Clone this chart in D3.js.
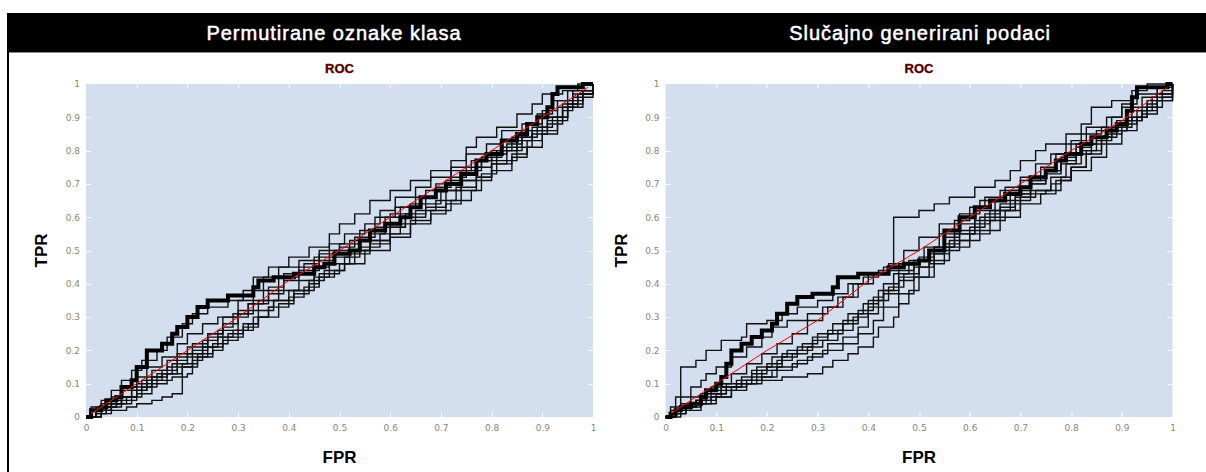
<!DOCTYPE html>
<html>
<head>
<meta charset="utf-8">
<script src="https://cdn.jsdelivr.net/npm/d3@7"></script>
<style>
  body { margin: 0; background: #fff; }
  svg { display: block; font-family: "Liberation Sans", Arial, sans-serif; }
</style>
</head>
<body>
<script>
// ROC curves, two panels
var svgWidth = 1206;
var svgHeight = 472;

var panelTitles = ["Permutirane oznake klasa", "Slučajno generirani podaci"];
var tickValues = [0, 0.1, 0.2, 0.3, 0.4, 0.5, 0.6, 0.7, 0.8, 0.9, 1];
var tickLabels = ["0", "0.1", "0.2", "0.3", "0.4", "0.5", "0.6", "0.7", "0.8", "0.9", "1"];

// left panel: permuted class labels, [FPR, TPR]
var permThick = [[0,0],[0.01,0.02],[0.03,0.03],[0.04,0.05],[0.06,0.06],[0.07,0.09],[0.09,0.11],[0.1,0.15],[0.12,0.2],[0.15,0.22],[0.17,0.25],[0.18,0.27],[0.2,0.3],[0.22,0.33],[0.24,0.35],[0.28,0.365],[0.33,0.39],[0.34,0.41],[0.37,0.42],[0.41,0.43],[0.45,0.45],[0.47,0.46],[0.49,0.49],[0.52,0.5],[0.54,0.53],[0.56,0.56],[0.59,0.58],[0.62,0.6],[0.64,0.63],[0.66,0.66],[0.69,0.68],[0.71,0.7],[0.74,0.73],[0.77,0.77],[0.79,0.79],[0.82,0.83],[0.85,0.85],[0.87,0.88],[0.89,0.9],[0.91,0.93],[0.92,0.97],[0.93,0.99],[0.97,0.99],[0.98,1],[1,1]];

var permThin = [
  [[0,0],[0.02,0.03],[0.05,0.05],[0.07,0.08],[0.1,0.1],[0.13,0.14],[0.16,0.17],[0.2,0.21],[0.24,0.25],[0.27,0.3],[0.3,0.35],[0.33,0.42],[0.36,0.45],[0.4,0.48],[0.44,0.51],[0.48,0.55],[0.5,0.58],[0.53,0.61],[0.56,0.65],[0.6,0.68],[0.64,0.71],[0.68,0.74],[0.72,0.77],[0.75,0.81],[0.77,0.84],[0.81,0.87],[0.85,0.91],[0.88,0.94],[0.9,0.97],[0.94,0.98],[0.97,1],[1,1]],
  [[0,0],[0.03,0.01],[0.05,0.02],[0.08,0.03],[0.1,0.04],[0.13,0.05],[0.15,0.06],[0.17,0.07],[0.19,0.08],[0.19,0.12],[0.2,0.13],[0.21,0.17],[0.23,0.21],[0.26,0.24],[0.29,0.26],[0.32,0.28],[0.34,0.3],[0.36,0.33],[0.37,0.35],[0.41,0.37],[0.44,0.4],[0.46,0.42],[0.49,0.44],[0.51,0.46],[0.55,0.5],[0.6,0.54],[0.64,0.59],[0.68,0.62],[0.72,0.65],[0.76,0.68],[0.78,0.71],[0.8,0.74],[0.84,0.78],[0.87,0.81],[0.9,0.85],[0.93,0.89],[0.95,0.93],[0.98,0.97],[1,1]],
  [[0,0],[0.02,0.02],[0.04,0.03],[0.06,0.05],[0.08,0.06],[0.1,0.08],[0.12,0.09],[0.14,0.11],[0.17,0.12],[0.19,0.15],[0.22,0.18],[0.25,0.2],[0.27,0.23],[0.3,0.26],[0.33,0.3],[0.36,0.33],[0.4,0.36],[0.43,0.39],[0.46,0.43],[0.5,0.46],[0.53,0.5],[0.56,0.53],[0.6,0.57],[0.63,0.6],[0.67,0.63],[0.71,0.68],[0.74,0.71],[0.78,0.73],[0.81,0.77],[0.85,0.81],[0.88,0.85],[0.91,0.88],[0.94,0.92],[0.96,0.96],[1,1]],
  [[0,0],[0.01,0.03],[0.03,0.05],[0.05,0.08],[0.07,0.11],[0.09,0.14],[0.11,0.17],[0.14,0.2],[0.16,0.24],[0.19,0.28],[0.21,0.31],[0.24,0.33],[0.28,0.35],[0.31,0.38],[0.35,0.42],[0.38,0.45],[0.42,0.47],[0.46,0.5],[0.5,0.52],[0.54,0.56],[0.57,0.6],[0.61,0.63],[0.65,0.66],[0.69,0.7],[0.72,0.74],[0.76,0.77],[0.8,0.8],[0.84,0.84],[0.87,0.88],[0.9,0.92],[0.93,0.95],[0.96,0.98],[1,1]],
  [[0,0],[0.02,0.01],[0.04,0.04],[0.07,0.06],[0.09,0.09],[0.12,0.12],[0.15,0.14],[0.18,0.18],[0.21,0.2],[0.24,0.24],[0.27,0.27],[0.29,0.31],[0.32,0.34],[0.36,0.37],[0.39,0.41],[0.42,0.44],[0.46,0.47],[0.49,0.5],[0.52,0.53],[0.56,0.55],[0.59,0.6],[0.62,0.63],[0.66,0.66],[0.69,0.69],[0.72,0.72],[0.75,0.75],[0.78,0.78],[0.82,0.81],[0.85,0.84],[0.88,0.87],[0.91,0.9],[0.94,0.93],[0.97,0.97],[1,1]],
  [[0,0],[0.03,0.02],[0.05,0.04],[0.08,0.05],[0.1,0.07],[0.13,0.1],[0.16,0.13],[0.19,0.16],[0.22,0.19],[0.25,0.22],[0.28,0.25],[0.31,0.28],[0.34,0.32],[0.37,0.35],[0.4,0.38],[0.44,0.41],[0.47,0.44],[0.51,0.48],[0.54,0.51],[0.58,0.55],[0.62,0.58],[0.65,0.62],[0.69,0.65],[0.73,0.69],[0.77,0.72],[0.8,0.76],[0.84,0.79],[0.87,0.83],[0.9,0.86],[0.93,0.9],[0.95,0.94],[0.98,0.98],[1,1]],
  [[0,0],[0.02,0.02],[0.05,0.03],[0.07,0.06],[0.09,0.08],[0.11,0.11],[0.14,0.13],[0.17,0.16],[0.2,0.19],[0.23,0.23],[0.26,0.26],[0.3,0.3],[0.32,0.34],[0.35,0.38],[0.38,0.42],[0.42,0.45],[0.45,0.48],[0.48,0.52],[0.51,0.55],[0.55,0.58],[0.58,0.62],[0.61,0.66],[0.65,0.69],[0.68,0.72],[0.72,0.75],[0.75,0.79],[0.79,0.82],[0.82,0.86],[0.86,0.88],[0.89,0.91],[0.92,0.95],[0.95,0.98],[1,1]],
  [[0,0],[0.01,0.02],[0.03,0.04],[0.05,0.06],[0.07,0.09],[0.1,0.12],[0.12,0.15],[0.15,0.18],[0.18,0.22],[0.2,0.25],[0.23,0.28],[0.26,0.3],[0.3,0.32],[0.34,0.35],[0.38,0.38],[0.42,0.41],[0.45,0.45],[0.48,0.48],[0.52,0.5],[0.56,0.53],[0.6,0.57],[0.63,0.61],[0.67,0.64],[0.7,0.68],[0.74,0.71],[0.77,0.75],[0.8,0.79],[0.83,0.82],[0.86,0.86],[0.9,0.9],[0.93,0.93],[0.96,0.97],[1,1]],
  [[0,0],[0.02,0.01],[0.04,0.03],[0.06,0.04],[0.09,0.06],[0.11,0.09],[0.13,0.12],[0.16,0.15],[0.18,0.19],[0.21,0.22],[0.24,0.25],[0.27,0.28],[0.3,0.31],[0.33,0.35],[0.36,0.39],[0.39,0.43],[0.43,0.46],[0.46,0.49],[0.5,0.51],[0.53,0.54],[0.57,0.57],[0.6,0.61],[0.64,0.64],[0.67,0.68],[0.71,0.71],[0.74,0.74],[0.78,0.77],[0.81,0.8],[0.85,0.83],[0.88,0.86],[0.91,0.89],[0.94,0.94],[0.97,0.97],[1,1]],
  [[0,0],[0.02,0.02],[0.05,0.04],[0.07,0.06],[0.1,0.08],[0.12,0.11],[0.15,0.13],[0.18,0.15],[0.21,0.18],[0.24,0.21],[0.27,0.24],[0.31,0.27],[0.34,0.3],[0.38,0.34],[0.41,0.38],[0.45,0.42],[0.48,0.46],[0.52,0.49],[0.56,0.52],[0.6,0.55],[0.64,0.58],[0.68,0.61],[0.71,0.64],[0.74,0.68],[0.77,0.72],[0.8,0.76],[0.83,0.8],[0.86,0.84],[0.89,0.87],[0.92,0.9],[0.95,0.95],[0.98,0.98],[1,1]]
];

var permMean = [[0.01,0.01],[0.1,0.1],[0.2,0.2],[0.3,0.3],[0.4,0.41],[0.5,0.5],[0.6,0.6],[0.7,0.7],[0.8,0.8],[0.9,0.9],[0.99,0.99]];

// right panel: randomly generated data, [FPR, TPR]
var randThick = [[0,0],[0.01,0.01],[0.02,0.02],[0.03,0.03],[0.05,0.04],[0.07,0.06],[0.08,0.08],[0.1,0.1],[0.11,0.12],[0.12,0.16],[0.13,0.2],[0.15,0.22],[0.17,0.24],[0.19,0.26],[0.21,0.28],[0.22,0.31],[0.24,0.34],[0.26,0.36],[0.29,0.37],[0.33,0.39],[0.34,0.42],[0.38,0.43],[0.42,0.43],[0.44,0.45],[0.47,0.46],[0.5,0.47],[0.52,0.5],[0.55,0.56],[0.58,0.6],[0.61,0.63],[0.64,0.65],[0.67,0.67],[0.7,0.69],[0.72,0.72],[0.75,0.74],[0.77,0.77],[0.79,0.79],[0.82,0.82],[0.84,0.84],[0.87,0.86],[0.89,0.88],[0.91,0.92],[0.92,0.96],[0.93,0.99],[0.96,0.99],[0.99,1],[1,1]];

var randThin = [
  [[0,0],[0.02,0.02],[0.04,0.04],[0.06,0.05],[0.08,0.08],[0.11,0.1],[0.13,0.13],[0.16,0.16],[0.19,0.19],[0.22,0.22],[0.25,0.25],[0.28,0.29],[0.31,0.33],[0.34,0.36],[0.37,0.4],[0.4,0.43],[0.43,0.45],[0.45,0.6],[0.5,0.62],[0.53,0.64],[0.56,0.66],[0.61,0.69],[0.65,0.71],[0.68,0.74],[0.7,0.77],[0.73,0.8],[0.75,0.82],[0.79,0.85],[0.82,0.88],[0.84,0.93],[0.88,0.95],[0.92,0.98],[0.95,1],[1,1]],
  [[0,0],[0.01,0.03],[0.02,0.06],[0.03,0.09],[0.03,0.15],[0.06,0.17],[0.08,0.2],[0.11,0.23],[0.15,0.24],[0.16,0.28],[0.2,0.29],[0.23,0.31],[0.26,0.33],[0.3,0.35],[0.33,0.37],[0.36,0.4],[0.39,0.42],[0.42,0.44],[0.46,0.46],[0.5,0.48],[0.53,0.51],[0.57,0.55],[0.61,0.59],[0.65,0.62],[0.69,0.66],[0.72,0.7],[0.75,0.74],[0.78,0.78],[0.81,0.82],[0.85,0.86],[0.88,0.9],[0.9,0.94],[0.93,0.97],[0.97,0.99],[1,1]],
  [[0,0],[0.02,0.03],[0.03,0.06],[0.05,0.09],[0.07,0.11],[0.08,0.13],[0.1,0.15],[0.13,0.18],[0.16,0.21],[0.19,0.24],[0.21,0.27],[0.24,0.29],[0.28,0.31],[0.32,0.33],[0.35,0.36],[0.38,0.4],[0.41,0.43],[0.44,0.46],[0.47,0.5],[0.5,0.54],[0.54,0.58],[0.58,0.61],[0.62,0.65],[0.66,0.68],[0.7,0.71],[0.74,0.75],[0.77,0.79],[0.8,0.83],[0.83,0.87],[0.87,0.9],[0.9,0.93],[0.94,0.96],[0.97,0.99],[1,1]],
  [[0,0],[0.02,0.01],[0.04,0.03],[0.06,0.04],[0.08,0.06],[0.1,0.07],[0.12,0.09],[0.15,0.1],[0.18,0.11],[0.23,0.12],[0.28,0.13],[0.31,0.15],[0.33,0.17],[0.36,0.19],[0.38,0.21],[0.41,0.24],[0.42,0.27],[0.45,0.3],[0.46,0.34],[0.48,0.38],[0.5,0.42],[0.53,0.47],[0.56,0.51],[0.6,0.55],[0.64,0.59],[0.67,0.62],[0.7,0.66],[0.73,0.68],[0.76,0.7],[0.78,0.72],[0.8,0.75],[0.83,0.8],[0.86,0.84],[0.89,0.87],[0.92,0.9],[0.95,0.93],[0.98,0.96],[1,1]],
  [[0,0],[0.02,0.02],[0.04,0.04],[0.06,0.05],[0.09,0.07],[0.12,0.09],[0.15,0.11],[0.18,0.12],[0.21,0.14],[0.25,0.16],[0.28,0.18],[0.31,0.2],[0.35,0.22],[0.38,0.25],[0.41,0.29],[0.43,0.33],[0.46,0.37],[0.49,0.42],[0.52,0.46],[0.55,0.5],[0.58,0.53],[0.62,0.56],[0.66,0.6],[0.7,0.64],[0.74,0.67],[0.77,0.71],[0.8,0.74],[0.84,0.78],[0.87,0.82],[0.9,0.86],[0.93,0.9],[0.95,0.94],[0.97,0.97],[1,1]],
  [[0,0],[0.03,0.02],[0.05,0.03],[0.07,0.05],[0.1,0.06],[0.13,0.08],[0.16,0.1],[0.19,0.12],[0.22,0.15],[0.26,0.17],[0.29,0.19],[0.32,0.22],[0.35,0.24],[0.38,0.27],[0.4,0.31],[0.42,0.35],[0.44,0.39],[0.47,0.43],[0.5,0.47],[0.53,0.51],[0.57,0.55],[0.61,0.58],[0.64,0.62],[0.68,0.65],[0.72,0.68],[0.76,0.72],[0.79,0.76],[0.82,0.8],[0.85,0.83],[0.88,0.86],[0.91,0.89],[0.94,0.92],[0.97,0.95],[1,1]],
  [[0,0],[0.02,0.02],[0.04,0.03],[0.06,0.05],[0.08,0.07],[0.11,0.09],[0.14,0.11],[0.17,0.14],[0.2,0.16],[0.23,0.19],[0.26,0.21],[0.29,0.24],[0.32,0.26],[0.35,0.29],[0.38,0.32],[0.41,0.36],[0.43,0.4],[0.46,0.44],[0.49,0.47],[0.52,0.5],[0.55,0.54],[0.58,0.58],[0.61,0.62],[0.65,0.65],[0.68,0.68],[0.72,0.71],[0.75,0.73],[0.78,0.76],[0.81,0.79],[0.84,0.82],[0.87,0.85],[0.9,0.88],[0.93,0.92],[0.96,0.96],[1,1]],
  [[0,0],[0.01,0.02],[0.03,0.04],[0.05,0.06],[0.07,0.07],[0.09,0.09],[0.12,0.1],[0.15,0.12],[0.18,0.15],[0.21,0.18],[0.24,0.2],[0.27,0.22],[0.3,0.25],[0.33,0.28],[0.36,0.31],[0.39,0.34],[0.42,0.38],[0.45,0.43],[0.48,0.47],[0.51,0.51],[0.54,0.55],[0.57,0.59],[0.6,0.63],[0.63,0.66],[0.67,0.69],[0.7,0.72],[0.73,0.76],[0.76,0.79],[0.79,0.82],[0.82,0.85],[0.86,0.87],[0.89,0.89],[0.92,0.92],[0.95,0.95],[0.98,0.98],[1,1]],
  [[0,0],[0.02,0.01],[0.04,0.03],[0.06,0.04],[0.09,0.06],[0.11,0.08],[0.14,0.1],[0.17,0.13],[0.2,0.15],[0.23,0.18],[0.26,0.2],[0.29,0.23],[0.32,0.25],[0.35,0.28],[0.38,0.31],[0.4,0.35],[0.43,0.38],[0.46,0.42],[0.5,0.45],[0.53,0.49],[0.56,0.53],[0.6,0.57],[0.63,0.61],[0.66,0.64],[0.7,0.67],[0.75,0.68],[0.78,0.71],[0.8,0.75],[0.83,0.79],[0.86,0.84],[0.88,0.86],[0.91,0.89],[0.94,0.91],[0.97,0.95],[1,1]],
  [[0,0],[0.02,0.01],[0.04,0.02],[0.07,0.04],[0.1,0.06],[0.13,0.09],[0.16,0.11],[0.19,0.14],[0.22,0.17],[0.25,0.19],[0.28,0.21],[0.31,0.23],[0.34,0.26],[0.37,0.3],[0.4,0.33],[0.43,0.37],[0.46,0.41],[0.49,0.45],[0.52,0.49],[0.55,0.52],[0.58,0.56],[0.62,0.6],[0.66,0.63],[0.69,0.67],[0.72,0.7],[0.75,0.74],[0.78,0.77],[0.81,0.81],[0.84,0.84],[0.88,0.87],[0.91,0.9],[0.94,0.93],[0.97,0.97],[1,1]]
];

var randMean = [[0.01,0.01],[0.1,0.1],[0.2,0.2],[0.3,0.29],[0.4,0.41],[0.5,0.5],[0.6,0.6],[0.7,0.7],[0.8,0.8],[0.9,0.89],[0.99,0.99]];

var svg = d3.select("body")
  .append("svg")
  .attr("width", svgWidth)
  .attr("height", svgHeight);

// black header bar with grey rule under it
svg.append("rect")
  .attr("x", 7)
  .attr("y", 13)
  .attr("width", svgWidth - 7)
  .attr("height", 39)
  .attr("fill", "#000");

svg.append("line")
  .attr("x1", 7).attr("x2", svgWidth)
  .attr("y1", 52.5).attr("y2", 52.5)
  .attr("stroke", "#8c8c8c");

// left border of the frame
svg.append("line")
  .attr("x1", 8).attr("x2", 8)
  .attr("y1", 52).attr("y2", svgHeight)
  .attr("stroke", "#000")
  .attr("stroke-width", 2);

var plotTop = 84;
var plotHeight = 333;
var plotWidth = 507;

function drawPanel(title, titleX, left, thinCurves, thickCurve, meanCurve) {
  svg.append("text")
    .attr("x", titleX)
    .attr("y", 40)
    .attr("text-anchor", "middle")
    .attr("fill", "#fff")
    .attr("stroke", "#fff")
    .attr("stroke-width", 0.5)
    .attr("font-size", "20px")
    .attr("letter-spacing", "1px")
    .text(title);

  var g = svg.append("g")
    .attr("transform", `translate(${left}, ${plotTop})`);

  var x = d3.scaleLinear().domain([0, 1]).range([0, plotWidth]);
  var y = d3.scaleLinear().domain([0, 1]).range([plotHeight, 0]);

  g.append("rect")
    .attr("width", plotWidth)
    .attr("height", plotHeight)
    .attr("fill", "#d3dfef");

  // small white ticks on all four sides, inside the plot
  var inner = tickValues.slice(1, -1);
  var tg = g.append("g").attr("stroke", "#fff").attr("stroke-width", 1);
  inner.forEach(function (t) {
    var px = Math.round(x(t)) + 0.5;
    var py = Math.round(y(t)) + 0.5;
    tg.append("line").attr("x1", px).attr("x2", px).attr("y1", 0).attr("y2", 4);
    tg.append("line").attr("x1", px).attr("x2", px).attr("y1", plotHeight).attr("y2", plotHeight - 5);
    tg.append("line").attr("x1", 0).attr("x2", 5).attr("y1", py).attr("y2", py);
    tg.append("line").attr("x1", plotWidth).attr("x2", plotWidth - 5).attr("y1", py).attr("y2", py);
  });

  // tick labels
  var bottomAxis = d3.axisBottom(x)
    .tickValues(tickValues)
    .tickFormat(function (d, i) { return tickLabels[i]; })
    .tickSize(0)
    .tickPadding(8);
  var leftAxis = d3.axisLeft(y)
    .tickValues(tickValues)
    .tickFormat(function (d, i) { return tickLabels[i]; })
    .tickSize(0)
    .tickPadding(6);

  var xAxis = g.append("g")
    .attr("transform", `translate(0, ${plotHeight})`)
    .call(bottomAxis);
  var yAxis = g.append("g").call(leftAxis);
  [xAxis, yAxis].forEach(function (a) {
    a.select(".domain").remove();
    a.selectAll("text")
      .attr("fill", "#8a8578")
      .attr("font-size", "9px")
      .attr("font-family", "Tahoma, 'DejaVu Sans', sans-serif");
  });

  var step = d3.line()
    .x(d => x(d[0]))
    .y(d => y(d[1]))
    .curve(d3.curveStepAfter);

  g.selectAll(".thin")
    .data(thinCurves)
    .enter()
    .append("path")
    .attr("class", "thin")
    .attr("d", step)
    .attr("fill", "none")
    .attr("stroke", "#111")
    .attr("stroke-width", 1.4);

  g.append("path")
    .datum(thickCurve)
    .attr("d", step)
    .attr("fill", "none")
    .attr("stroke", "#000")
    .attr("stroke-width", 4);

  var meanLine = d3.line()
    .x(d => x(d[0]))
    .y(d => y(d[1]));

  g.append("path")
    .datum(meanCurve)
    .attr("d", meanLine)
    .attr("fill", "none")
    .attr("stroke", "#ff0000")
    .attr("stroke-width", 1);

  // titles
  g.append("text")
    .attr("x", plotWidth / 2)
    .attr("y", -11)
    .attr("text-anchor", "middle")
    .attr("font-size", "13px")
    .attr("font-weight", "bold")
    .attr("fill", "#1a0000")
    .attr("stroke", "#b00")
    .attr("stroke-width", 0.4)
    .text("ROC");

  g.append("text")
    .attr("x", plotWidth / 2)
    .attr("y", plotHeight + 46)
    .attr("text-anchor", "middle")
    .attr("font-size", "17px")
    .attr("font-weight", "bold")
    .attr("fill", "#000")
    .text("FPR");

  g.append("text")
    .attr("transform", "rotate(-90)")
    .attr("x", -plotHeight / 2)
    .attr("y", -39)
    .attr("text-anchor", "middle")
    .attr("font-size", "17px")
    .attr("font-weight", "bold")
    .attr("fill", "#000")
    .text("TPR");
}

drawPanel(panelTitles[0], 334, 86, permThin, permThick, permMean);
drawPanel(panelTitles[1], 920, 665.5, randThin, randThick, randMean);
</script>
</body>
</html>
